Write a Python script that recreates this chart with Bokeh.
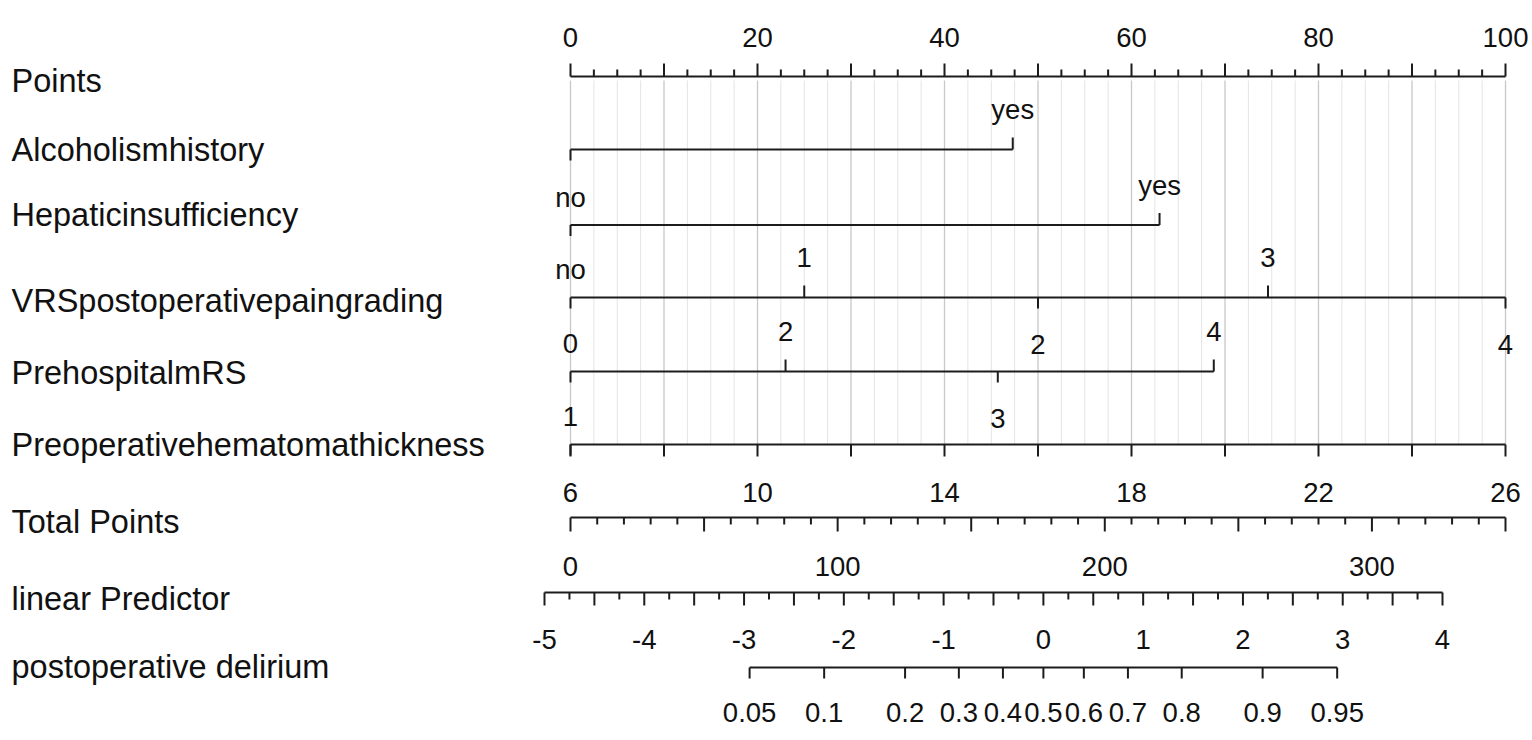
import numpy as np
from bokeh.plotting import figure
from bokeh.models import Range1d, Label, ColumnDataSource
from bokeh.core.properties import value
from bokeh.embed import file_html
from bokeh.resources import INLINE

# ---------------- data ----------------
row_names = ["Points", "Alcoholismhistory", "Hepaticinsufficiency",
             "VRSpostoperativepaingrading", "PrehospitalmRS",
             "Preoperativehematomathickness", "Total Points",
             "linear Predictor", "postoperative delirium"]

points_labels = [0, 20, 40, 60, 80, 100]
points_max = 100
points_minor_step = 2.5
points_major_step = 10

alc_levels = ["no", "yes"]
alc_points = [0.0, 47.3]
hep_levels = ["no", "yes"]
hep_points = [0.0, 63.0]
vrs_levels = ["no", "1", "2", "3", "4"]
vrs_points = [0.0, 25.0, 50.0, 74.6, 100.0]
mrs_levels = ["0", "2", "3", "4"]
mrs_points = [0.0, 23.0, 45.7, 68.8]
hem_levels = ["1"]
hem_points = [0.0]
hem_tick_points = [0, 10, 20, 30, 40, 50, 60, 70, 80, 90, 100]

total_labels = [6, 10, 14, 18, 22, 26]
score_labels = [0, 100, 200, 300]
score_max = 350
score_minor_step = 10
score_major_step = 50

lp_labels = [-5, -4, -3, -2, -1, 0, 1, 2, 3, 4]
lp_minor_step = 0.25
lp_major_step = 0.5

prob_labels = [0.05, 0.1, 0.2, 0.3, 0.4, 0.5, 0.6, 0.7, 0.8, 0.9, 0.95]

# ---------------- layout / style ----------------
W, H, OFF = 1532, 740, 0
FONT = "Liberation Sans"
NAME_SIZE = "32.5px"
TICK_SIZE = "27.5px"
INK = "#1c1c1c"
TXT = "#111111"
LW = 2
DY_TICK = -11      # baseline correction for tick/level texts
DY_NAME = -12      # baseline correction for row names

row_y = [76, 149, 224.5, 297, 371, 444, 517, 592, 667]
name_base = [92.7, 161.7, 226.7, 312, 384, 456.7, 533, 610, 678]
alc_place = ["none", "hi"]
hep_place = ["lo", "hi"]
vrs_place = ["lo", "hi", "below", "hi", "below"]
mrs_place = ["lo", "hi", "below", "hi"]
hem_place = ["lo"]


def rng(x0_ref, v0, x1_ref, v1):
    ppu = (x1_ref - x0_ref) / (v1 - v0)
    return Range1d(start=v0 + (OFF - x0_ref) / ppu,
                   end=v0 + (OFF + W - x0_ref) / ppu)


p = figure(width=W, height=H, x_range=rng(570, 0, 1505, points_max),
           y_range=Range1d(OFF + H, OFF), output_backend="svg",
           toolbar_location=None, x_axis_type=None, y_axis_type=None,
           min_border=0, outline_line_color=None)
p.extra_x_ranges = {"score": rng(570, 0, 1505, score_max),
                    "total": rng(570, total_labels[0], 1505, total_labels[-1]),
                    "lp": rng(544, lp_labels[0], 1442, lp_labels[-1])}
p.background_fill_color = "white"
p.border_fill_color = "white"


def txt(xs, ys, labels, rname="default", size=TICK_SIZE, align="center", dy=DY_TICK):
    src = ColumnDataSource(dict(x=list(xs), y=[v + dy for v in ys], t=list(labels)))
    p.text(x="x", y="y", text="t", source=src, x_range_name=rname,
           text_font=value(FONT), text_font_size=value(size),
           text_align=align, text_baseline="alphabetic", text_color=TXT)


def seg(x0, y0, x1, y1, rname="default", color=INK, width=LW):
    p.segment(x0=list(x0), y0=list(y0), x1=list(x1), y1=list(y1),
              x_range_name=rname, line_color=color, line_width=width)


# ---- vertical reference grid ----
gx = np.arange(0, points_max + 1e-9, points_minor_step)
gmaj = [x for x in gx if x % points_major_step == 0]
gmin = [x for x in gx if x % points_major_step != 0]
seg(gmin, [80] * len(gmin), gmin, [row_y[5]] * len(gmin), color="#e4e4e4", width=1)
seg(gmaj, [80] * len(gmaj), gmaj, [row_y[5]] * len(gmaj), color="#c8c8c8", width=1.3)

# ---- Points axis ----
y = row_y[0]
seg([0], [y], [points_max], [y])
tl = [13 if x % points_major_step == 0 else 7 for x in gx]
seg(gx, [y - l for l in tl], gx, [y] * len(gx))
txt(points_labels, [y - 28] * len(points_labels), [str(v) for v in points_labels])


# ---- categorical rows ----
def level_row(levels, pts, places, y):
    seg([min(pts)], [y], [max(pts)], [y])
    for lev, x, pl in zip(levels, pts, places):
        if pl == "hi":
            seg([x], [y - 12], [x], [y])
            txt([x], [y - 29], [lev])
        else:
            seg([x], [y], [x], [y + 11])
            if pl == "lo":
                txt([x], [y - 17], [lev])
            elif pl == "below":
                txt([x], [y + 58], [lev])


level_row(alc_levels, alc_points, alc_place, row_y[1])
level_row(hep_levels, hep_points, hep_place, row_y[2])
level_row(vrs_levels, vrs_points, vrs_place, row_y[3])
level_row(mrs_levels, mrs_points, mrs_place, row_y[4])

# hematoma row
y = row_y[5]
seg([0], [y], [points_max], [y])
seg(hem_tick_points, [y] * len(hem_tick_points), hem_tick_points, [y + 12] * len(hem_tick_points))
level_row(hem_levels, hem_points, hem_place, y)

# ---- Total Points ----
y = row_y[6]
sx = np.arange(0, score_max + 1e-9, score_minor_step)
sl = [14 if v % score_major_step == 0 else 7 for v in sx]
seg([0], [y], [score_max], [y], rname="score")
seg(sx, [y] * len(sx), sx, [y + l for l in sl], rname="score")
txt(total_labels, [y - 14] * len(total_labels), [str(v) for v in total_labels], rname="total")

# ---- linear Predictor ----
y = row_y[7]
lx = np.arange(lp_labels[0], lp_labels[-1] + 1e-9, lp_minor_step)
ll = [13 if abs(v / lp_major_step - round(v / lp_major_step)) < 1e-9 else 7 for v in lx]
seg([lp_labels[0]], [y], [lp_labels[-1]], [y], rname="lp")
seg(lx, [y] * len(lx), lx, [y + l for l in ll], rname="lp")
txt(score_labels, [y - 15] * len(score_labels), [str(v) for v in score_labels], rname="score")
txt(lp_labels, [y + 58] * len(lp_labels), [str(v) for v in lp_labels], rname="lp")

# ---- postoperative delirium (probability on logit scale) ----
y = row_y[8]
pr = np.array(prob_labels)
px = np.log(pr / (1 - pr))
seg([px.min()], [y], [px.max()], [y], rname="lp")
seg(px, [y] * len(px), px, [y + 11] * len(px), rname="lp")
txt(px, [y + 56] * len(px), [f"{v:g}" for v in prob_labels], rname="lp")

# ---- row names ----
for name, b in zip(row_names, name_base):
    p.add_layout(Label(x=11, y=b + DY_NAME, x_units="screen", y_units="data", text=name,
                       text_font=FONT, text_font_size=NAME_SIZE,
                       text_baseline="alphabetic", text_align="left",
                       text_color=TXT))

open("out.html", "w").write(file_html(p, INLINE))
